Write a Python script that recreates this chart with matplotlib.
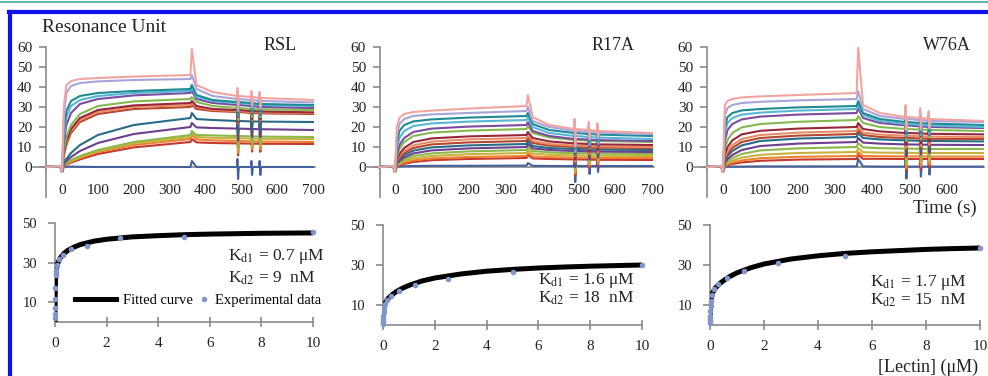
import matplotlib.pyplot as plt
from matplotlib.lines import Line2D

plt.rcParams['font.family'] = ['Liberation Serif', 'DejaVu Serif']
plt.rcParams['mathtext.fontset'] = 'stix'

W, H = 988, 376


def box(l, r, t, b):
    # pixel box (left, right, top, bottom) -> figure fraction rect
    return [l / W, 1 - b / H, (r - l) / W, (b - t) / H]


names = ['RSL', 'R17A', 'W76A']

# ---- sensorgrams (Resonance Unit vs time) ----
pre_t = [-43, -5, 0]
pre_v = [0, 0.5, -2.5]
t_grid = [5, 12, 25, 50, 100, 200, 358, 362, 375, 420, 488, 527, 550, 700]
spike_t = [488, 527, 550]

rsl_ru = [
    [0, 0.2, 0.2, 0.1, 0, 0, 0, 3, 0, 0, 0, 0, 0, 0],
    [0.6, 1.2, 2.2, 3.8, 6.5, 9.8, 12.5, 14, 12.3, 12, 11.8, 11.7, 11.6, 11.5],
    [0.8, 1.5, 2.7, 4.5, 7.5, 11, 14, 16, 13.8, 13.3, 13, 12.8, 12.7, 12.5],
    [1, 1.8, 3, 5, 8, 11.8, 15, 17, 15, 14.6, 14.4, 14.2, 14.1, 14],
    [1, 2, 3.5, 5.5, 8.5, 12.5, 16, 18, 16, 15.8, 15.5, 15.3, 15.2, 15],
    [1.5, 3, 5, 8, 12, 16.5, 20, 22, 19.8, 19.5, 19.2, 19, 18.9, 18.5],
    [2, 4, 7, 11, 16, 21, 24.5, 27, 24, 23.5, 23, 22.8, 22.7, 22.5],
    [5.5, 11, 17, 22.5, 26.5, 29, 30, 31, 29, 28, 27.5, 27, 26.8, 26.5],
    [6, 12, 18, 23.5, 27.5, 30, 31, 32, 30, 28.5, 28, 27.5, 27.3, 27],
    [7, 13, 19, 24.5, 28.5, 30.8, 32, 33, 30.5, 29, 28.5, 28, 27.8, 27.3],
    [8, 15, 21, 26.5, 30.5, 32.8, 34, 35, 32.5, 30.5, 29.5, 29, 28.8, 28.5],
    [12, 21, 27, 31.5, 34, 35.8, 37, 38, 34, 32, 31, 30.5, 30, 29.5],
    [15, 25, 30.5, 33.5, 35.5, 37, 38, 40, 35, 33, 32, 31.5, 31, 30.5],
    [18, 28, 33, 35.5, 37, 38, 39, 41, 36, 33.5, 32.5, 32, 31.5, 31],
    [25, 37, 40.5, 42, 42.8, 43.5, 44, 46, 39, 35.5, 34, 33.5, 33, 32.3],
    [30, 41, 43, 44, 44.5, 45.2, 46, 59, 41, 37.5, 35.5, 35, 34.5, 33.5],
]

r17a_ru = [
    [0.2, 0.3, 0.4, 0.5, 0.6, 0.6, 0.7, 2, 0.6, 0.5, 0.5, 0.5, 0.5, 0.5],
    [0.4, 0.9, 1.6, 2.5, 3.4, 4, 4.5, 6, 4.3, 4, 3.8, 3.7, 3.6, 3.5],
    [0.6, 1.3, 2.2, 3.3, 4.3, 5, 5.5, 7, 5.3, 4.9, 4.7, 4.6, 4.5, 4.5],
    [0.8, 1.7, 3, 4.3, 5.5, 6.4, 7, 8.5, 6.7, 6.1, 5.8, 5.7, 5.6, 5.5],
    [1, 2.2, 3.8, 5.5, 6.8, 7.8, 8.5, 10, 8, 7.3, 6.9, 6.8, 6.7, 6.5],
    [1.5, 3, 4.8, 6.8, 8.3, 9.3, 10, 11.5, 9.3, 8.5, 8, 7.8, 7.7, 7.5],
    [2, 3.8, 6, 8.2, 9.8, 10.8, 11.5, 13, 10.5, 9.5, 9, 8.8, 8.7, 8.5],
    [2.5, 4.5, 7, 9.5, 11.3, 12.3, 13, 14.5, 12, 10.7, 10, 9.8, 9.7, 9.5],
    [3, 5.5, 8, 10.8, 12.7, 13.8, 14.5, 16, 13, 11.5, 10.7, 10.5, 10.3, 10],
    [3.5, 6.5, 9.5, 12.5, 14.3, 15.3, 16, 17.5, 14.5, 12.8, 11.8, 11.5, 11.3, 11],
    [5, 9, 12.5, 15.5, 17.2, 18.2, 19, 20.5, 17, 14.8, 13.5, 13.2, 13, 12.5],
    [6.5, 11, 14.5, 17.5, 19.2, 20.2, 21, 22.5, 18, 15.5, 14, 13.7, 13.4, 13],
    [9, 14.5, 18, 20.5, 21.8, 22.7, 23.5, 25, 20, 17, 15.5, 15, 14.7, 14],
    [12, 18, 21, 22.8, 23.8, 24.7, 25.5, 27, 21.5, 18.5, 17, 16.5, 16.2, 15.5],
    [16, 21.5, 24, 25.5, 26.3, 27, 28, 30, 23, 20, 18, 17.5, 17.2, 16.5],
    [20, 24.5, 26.5, 27.5, 28.2, 29.2, 30.5, 36, 25, 21, 19, 18.5, 18, 17],
]

w76a_ru = [
    [0.1, 0.1, 0.2, 0.2, 0.3, 0.3, 0.3, 4, 0.3, 0.2, 0.2, 0.2, 0.2, 0.2],
    [0.4, 0.9, 1.5, 2.3, 3.1, 3.7, 4, 6, 4.1, 4.1, 4, 4, 4, 4],
    [0.6, 1.3, 2.2, 3.3, 4.4, 5.1, 5.5, 7.5, 5.5, 5.4, 5.3, 5.3, 5.2, 5.2],
    [1, 2, 3.2, 4.7, 6.1, 7, 7.5, 9.5, 7.4, 7.2, 7.1, 7, 7, 7],
    [1.5, 3, 4.5, 6.5, 8.3, 9.3, 10, 12, 9.8, 9.4, 9.2, 9.1, 9, 9],
    [2, 4, 6, 8.5, 10.5, 11.7, 12.5, 14.5, 12.2, 11.7, 11.3, 11.2, 11.1, 11],
    [3, 5.5, 8, 10.8, 13, 14.2, 15, 17, 14.5, 13.8, 13.3, 13.1, 13, 12.8],
    [4, 6.5, 9.5, 12.5, 14.5, 15.7, 16.5, 18.5, 16, 15, 14.5, 14.3, 14.1, 14],
    [5, 8, 11, 14, 16, 17.2, 18, 20, 17.2, 16.2, 15.6, 15.4, 15.2, 15],
    [6.5, 10, 13.3, 16.3, 18.1, 19.2, 20, 22, 19, 17.8, 17, 16.8, 16.6, 16.3],
    [9, 13.5, 17, 19.8, 21.5, 22.6, 23.5, 25.5, 22, 20, 19, 18.7, 18.5, 18],
    [13, 18.5, 21.5, 23.8, 25.2, 26.2, 27, 29.5, 24.5, 22, 20.8, 20.3, 20, 19.5],
    [17, 22, 24.5, 26.2, 27.2, 28.2, 29, 31, 26, 23, 21.5, 21, 20.7, 20],
    [20, 25, 27, 28.3, 29, 29.8, 30.5, 33, 27, 24, 22.5, 22, 21.7, 21],
    [26, 29.5, 31, 32, 32.6, 33.3, 34, 38, 29, 25.5, 24, 23.5, 23, 22.5],
    [31, 33, 34, 34.8, 35.3, 36, 37, 60, 31, 27, 25, 24.5, 24, 23],
]

# injection artefacts (up, down) at spike_t, per panel
rsl_spk = [(4, 6), (3, 4), (3, 4)]
r17a_spk = [(5, 8), (4, 4), (4, 3)]
w76a_spk = [(6, 6), (5, 5), (4, 4)]

palette = ['#44609E', '#C8372D', '#EE7F2D', '#C9B23C', '#8DB84A', '#6E3F8F',
           '#276C86', '#B8452E', '#E98B63', '#97273A', '#86B94D', '#7A4B9E',
           '#55B7D4', '#1D8A96', '#A9A3DC', '#F2A4A0']

# ---- binding isotherms ----
conc = [10, 5, 2.5, 1.25, 0.625, 0.3125, 0.156, 0.078, 0.039, 0.0195,
        0.0098, 0.0049, 0.0024, 0.0012, 0.0006]
rsl_exp = [45.3, 43.0, 42.2, 38.3, 37.0, 34.0, 31.8, 29.0, 26.5, 23.5,
           17.0, 11.5, 7.0, 4.0, 2.0]
r17a_exp = [30.0, 26.5, 23.2, 20.2, 17.0, 14.5, 12.5, 10.5, 8.5, 6.5,
            4.5, 3.0, 2.0, 1.2, 0.6]
w76a_exp = [38.5, 34.5, 31.0, 27.0, 23.5, 20.5, 18.0, 15.0, 12.0, 9.5,
            7.0, 4.5, 3.0, 1.8, 1.0]

fit_x = [0, 0.002, 0.005, 0.01, 0.02, 0.05, 0.1, 0.2, 0.35, 0.5, 0.75, 1,
         1.5, 2, 3, 4, 5, 6, 7, 8, 9, 10]
rsl_fit = [0, 5.5, 10.7, 16.0, 21.1, 26.5, 29.5, 32.3, 34.6, 36.2, 37.9, 39.2,
           40.8, 41.8, 43.0, 43.6, 44.1, 44.4, 44.6, 44.8, 44.9, 45.0]
r17a_fit = [0, 1.2, 2.6, 4.3, 6.3, 9.4, 11.4, 13.3, 15.1, 16.6, 18.4, 19.8,
            22.0, 23.5, 25.5, 26.9, 27.8, 28.5, 29.0, 29.4, 29.7, 30.0]
w76a_fit = [0, 2.0, 4.3, 6.8, 9.7, 13.8, 16.2, 18.5, 20.6, 22.2, 24.4, 26.1,
            28.6, 30.5, 33.0, 34.6, 35.8, 36.6, 37.2, 37.8, 38.2, 38.5]

kd1 = ['0.7 μM', '1.6 μM', '1.7 μM']
kd2 = ['9  nM', '18  nM', '15  nM']

ru_sets = [rsl_ru, r17a_ru, w76a_ru]
spk_sets = [rsl_spk, r17a_spk, w76a_spk]
exp_sets = [rsl_exp, r17a_exp, w76a_exp]
fit_sets = [rsl_fit, r17a_fit, w76a_fit]

# layout (pixels in the 988x376 picture)
top_px = [(33, 315), (365, 654), (693, 984)]
top_xlim = [(-81, 705.5), (-81.7, 705.5), (-80.4, 699)]
yaxis_at = [-44.6, -40.9, -42.9]
top_xticks = [range(0, 701, 100), range(0, 701, 100), range(0, 601, 100)]
title_x = [280, 613, 947]
bot_px = [(55, 313, 223, 322), (383, 642, 225, 325), (710, 980, 225, 325)]
kd_pos = [(228, 257, 278), (538, 280, 298), (870, 282, 300)]

grey = '#8a8a8a'
txt = '#222222'

fig = plt.figure(figsize=(W / 100, H / 100), dpi=100)

for i in range(3):
    ax = fig.add_axes(box(top_px[i][0], top_px[i][1], 47, 197))
    for k, row in enumerate(ru_sets[i]):
        t = list(pre_t)
        v = list(pre_v)
        for ti, vi in zip(t_grid, row):
            t.append(ti)
            v.append(vi)
            if ti in spike_t:
                up, dn = spk_sets[i][spike_t.index(ti)]
                t += [ti + 1, ti + 3, ti + 5]
                v += [vi + up, vi - dn, vi]
        ax.plot(t, v, color=palette[k], lw=1.5, zorder=3)
    ax.set_xlim(*top_xlim[i])
    ax.set_ylim(-15, 60)
    ax.spines[['top', 'right']].set_visible(False)
    ax.spines['left'].set_position(('data', yaxis_at[i]))
    ax.spines['bottom'].set_position(('data', 0))
    for s in ['left', 'bottom']:
        ax.spines[s].set_color(grey)
        ax.spines[s].set_linewidth(1.2)
    ax.set_yticks(range(0, 61, 10))
    ax.set_xticks(list(top_xticks[i]))
    ax.tick_params(axis='y', length=5, width=1.2, color=grey, pad=5,
                   labelsize=11, labelcolor=txt)
    ax.tick_params(axis='x', length=0, pad=12, labelsize=11, labelcolor=txt)
    ax.patch.set_alpha(0)
    fig.text(title_x[i] / W, 1 - 45 / H, names[i], ha='center', va='center',
             fontsize=13, color=txt)

for i in range(3):
    l, r, t, b = bot_px[i]
    ax = fig.add_axes(box(l, r, t, b))
    ax.plot(fit_x, fit_sets[i], color='black', lw=3.6, zorder=3,
            solid_capstyle='round')
    ax.plot(conc, exp_sets[i], 'o', ms=3, color='#8396CC', zorder=4,
            clip_on=False)
    ax.set_xlim(0, 10)
    ax.set_ylim(0, 50)
    ax.spines[['top', 'right']].set_visible(False)
    for s in ['left', 'bottom']:
        ax.spines[s].set_color(grey)
        ax.spines[s].set_linewidth(1.2)
    ax.set_xticks(range(0, 11, 2))
    ax.set_yticks([10, 30, 50])
    ax.tick_params(axis='x', direction='inout', length=7, width=1.2,
                   color=grey, pad=7, labelsize=11, labelcolor=txt)
    ax.tick_params(axis='y', direction='out', length=5, width=1.2,
                   color=grey, pad=8, labelsize=10.5, labelcolor=txt)
    ax.patch.set_alpha(0)
    x0, y1, y2 = kd_pos[i]
    fig.text(x0 / W, 1 - y1 / H, r'K$_{\mathrm{d1}}$ = ' + kd1[i],
             ha='left', va='center', fontsize=12.5, color=txt)
    fig.text(x0 / W, 1 - y2 / H, r'K$_{\mathrm{d2}}$ = ' + kd2[i],
             ha='left', va='center', fontsize=12.5, color=txt)

fit_handle = Line2D([], [], color='black', lw=3.6)
dot_handle = Line2D([], [], marker='o', ls='none', ms=3, color='#8396CC')
fig.legend([fit_handle], ['Fitted curve'], loc='center left',
           bbox_to_anchor=(75 / W, 1 - 300 / H), frameon=False,
           handlelength=2.8, handletextpad=0.5, borderpad=0, borderaxespad=0,
           fontsize=10.5)
fig.legend([dot_handle], ['Experimental data'], loc='center left',
           bbox_to_anchor=(200 / W, 1 - 300 / H), frameon=False,
           handlelength=0.6, handletextpad=0.4, borderpad=0, borderaxespad=0,
           fontsize=10.5)

fig.text(42 / W, 1 - 27 / H, 'Resonance Unit', ha='left', va='center',
         fontsize=14, color=txt)
fig.text(977 / W, 1 - 208 / H, 'Time (s)', ha='right', va='center',
         fontsize=13.5, color=txt)
fig.text(978 / W, 1 - 367 / H, '[Lectin] (μM)', ha='right', va='center',
         fontsize=13, color=txt)

# frame of the figure page
fig.add_artist(Line2D([0, 1], [1 - 2 / H, 1 - 2 / H], transform=fig.transFigure,
                      color='#5FB8B0', lw=1.5))
fig.add_artist(Line2D([9 / W, 1], [1 - 12 / H, 1 - 12 / H],
                      transform=fig.transFigure, color='#1010E8', lw=3))
fig.add_artist(Line2D([10 / W, 10 / W], [1 - 12 / H, 0],
                      transform=fig.transFigure, color='#1010E8', lw=3))

fig.savefig('out.png', dpi=100)
